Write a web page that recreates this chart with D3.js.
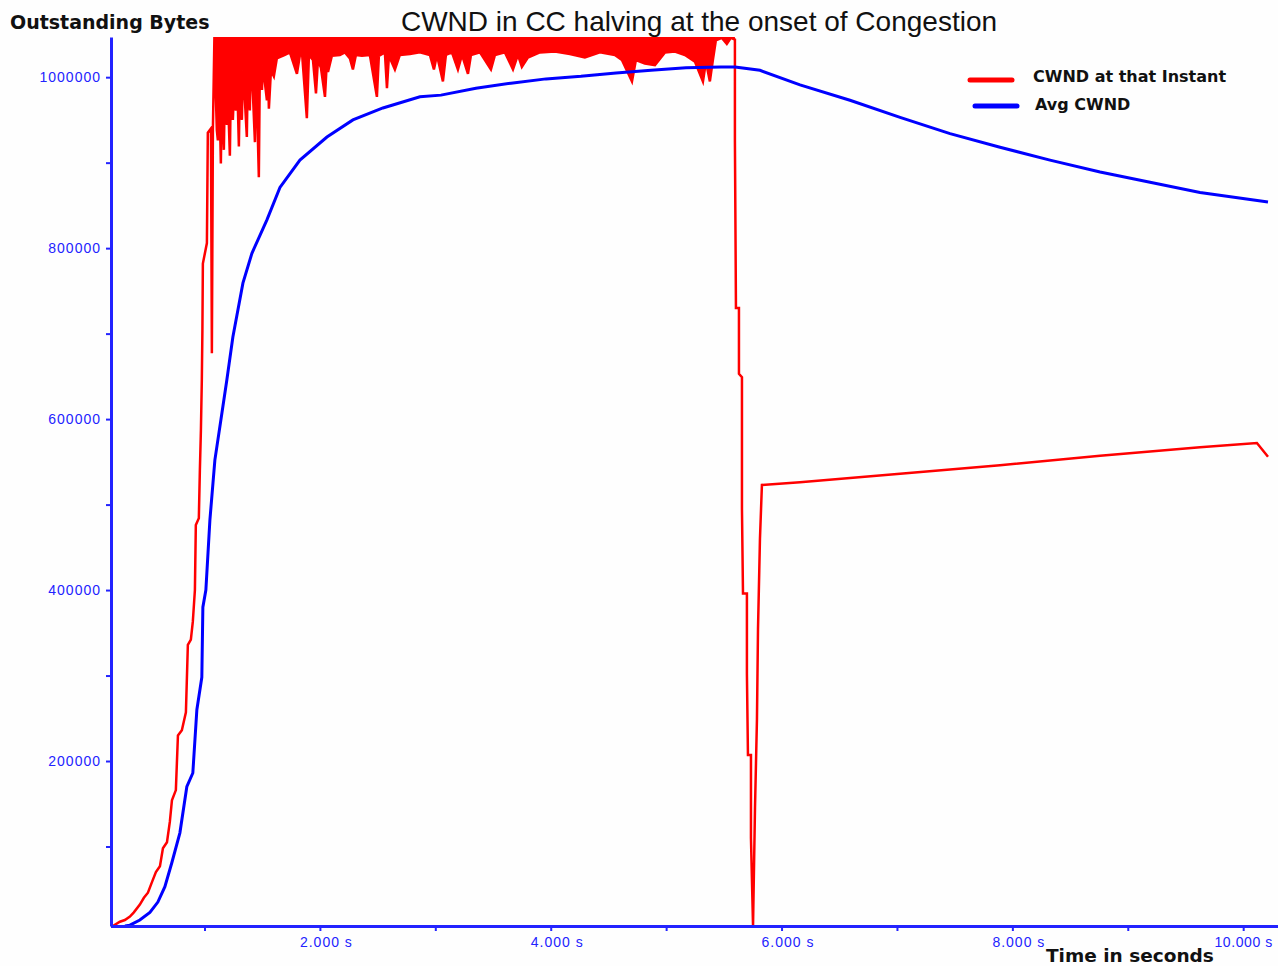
<!DOCTYPE html>
<html>
<head>
<meta charset="utf-8">
<script src="https://cdn.jsdelivr.net/npm/d3@7"></script>
<style>
  body { margin: 0; background: #ffffff; }
  .tick text { fill: #2323ff; font-family: "Liberation Sans", Arial, sans-serif; }
  .axis path, .axis line { stroke: #2323ff; }
</style>
</head>
<body>
<div id="chart"></div>
<script>
// chart size
var svgWidth = 1278;
var svgHeight = 966;

// plot box (pixels)
var plot = { left: 111, right: 1268, top: 37, bottom: 926 };

// CWND at that instant (seconds, bytes)
var redTime = [0.206, 0.267, 0.310, 0.354, 0.388, 0.440, 0.475, 0.510, 0.544, 0.579, 0.614, 0.640, 0.675, 0.700, 0.718, 0.752, 0.770, 0.804, 0.839, 0.856, 0.882, 0.899, 0.917, 0.925, 0.951, 0.960, 0.969, 0.977, 0.982, 0.986, 1.021, 1.029, 1.056, 1.064, 1.073, 1.086,
  1.090, 1.107, 1.116, 1.125, 1.142, 1.151, 1.168, 1.177, 1.194, 1.203, 1.220, 1.229, 1.246, 1.255, 1.272, 1.281, 1.298, 1.307, 1.324, 1.333, 1.350, 1.367, 1.376, 1.393, 1.402, 1.420, 1.437, 1.446, 1.471, 1.480, 1.498, 1.506,
  1.541, 1.550, 1.558, 1.576, 1.601, 1.627, 1.697, 1.740, 1.801, 1.827, 1.844, 1.887, 1.905, 1.940, 1.966, 1.983, 2.009, 2.044, 2.061, 2.070, 2.104, 2.173, 2.217, 2.260, 2.286, 2.312, 2.364, 2.433, 2.494, 2.511, 2.563, 2.581, 2.598, 2.650, 2.693, 2.780, 2.866, 2.953, 2.988, 3.014, 3.066, 3.092, 3.144, 3.196, 3.231, 3.283, 3.309, 3.387, 3.482, 3.517, 3.603, 3.673, 3.716, 3.750, 3.802, 3.906, 4.036, 4.166, 4.296, 4.426, 4.556, 4.617, 4.704, 4.738, 4.816, 4.903, 4.990, 5.076, 5.163, 5.250, 5.319, 5.345, 5.379, 5.405, 5.431, 5.483, 5.526, 5.561, 5.596,
  5.596, 5.605, 5.631, 5.631, 5.657, 5.657, 5.666, 5.700, 5.700, 5.709, 5.735, 5.735, 5.753, 5.770, 5.787, 5.796, 5.813, 5.830,
  6.160, 7.027, 7.893, 8.760, 9.626, 10.119, 10.215];
var redBytes = [7000, 12000, 14000, 18000, 23000, 32000, 40000, 46000, 58000, 70000, 77000, 98000, 105000, 129000, 154000, 166000, 230000, 236000, 257000, 336000, 342000, 363000, 400000, 476000, 484000, 540000, 587000, 646000, 704000, 782000, 806000, 935000, 940000, 677000, 940000, 1047000,
  1020000, 938000, 926000, 1002000, 899000, 985000, 915000, 991000, 944000, 979000, 908000, 996000, 950000, 984000, 961000, 1008000, 919000, 1002000, 950000, 1008000, 973000, 930000, 1014000, 961000, 1025000, 979000, 924000, 1018000, 883000, 1014000, 985000, 1014000,
  973000, 1008000, 963000, 1008000, 1001000, 1022000, 1026000, 1029000, 1004000, 1026000, 1030000, 952000, 1026000, 1020000, 981000, 1020000, 1011000, 977000, 1020000, 1006000, 1025000, 1026000, 1029000, 1022000, 1009000, 1026000, 1025000, 1026000, 977000, 1025000, 1029000, 987000, 1025000, 1009000, 1026000, 1027000, 1029000, 1026000, 1009000, 1026000, 995000, 1026000, 1029000, 1009000, 1026000, 1004000, 1026000, 1029000, 1009000, 1026000, 1029000, 1009000, 1026000, 1012000, 1023000, 1029000, 1030000, 1027000, 1023000, 1029000, 1026000, 1020000, 995000, 1020000, 1016000, 1014000, 1029000, 1030000, 1026000, 1018000, 995000, 1018000, 995000, 1020000, 1043000, 1046000, 1039000, 1046000, 1044000,
  926000, 730000, 730000, 653000, 649000, 495000, 396000, 396000, 302000, 207000, 207000, 110000, 7000, 145000, 249000, 354000, 460000, 523000,
  526000, 536000, 546000, 557000, 567000, 572000, 556000];

// Avg CWND (seconds, bytes)
var avgTime = [0.311, 0.354, 0.440, 0.527, 0.596, 0.657, 0.717, 0.787, 0.847, 0.899, 0.934, 0.977, 0.986, 1.012, 1.047, 1.090, 1.142, 1.194, 1.246, 1.333, 1.411, 1.541, 1.654, 1.827, 2.061, 2.286, 2.546, 2.867, 3.049, 3.352, 3.656, 3.959, 4.262, 4.566, 4.869, 5.172, 5.476, 5.597, 5.813, 6.160, 6.593, 7.027, 7.460, 7.893, 8.326, 8.760, 9.193, 9.626, 10.215];
var avgBytes = [7000, 8000, 14000, 23000, 35000, 53000, 81000, 116000, 170000, 186000, 260000, 298000, 380000, 400000, 482000, 552000, 599000, 646000, 696000, 759000, 794000, 833000, 871000, 903000, 930000, 950000, 964000, 977000, 979000, 987000, 993000, 998000, 1001000, 1005000, 1008000, 1011000, 1012000, 1012000, 1008000, 991000, 973000, 953000, 934000, 918000, 903000, 889000, 877000, 865000, 854000];

// ticks
var xMajorTicks = [2, 4, 6, 8, 10];
var xMajorLabels = ["2.000 s", "4.000 s", "6.000 s", "8.000 s", "10.000 s"];
var xMinorTicks = [1, 3, 5, 7, 9];
var yMajorTicks = [200000, 400000, 600000, 800000, 1000000];
var yMinorTicks = [100000, 300000, 500000, 700000, 900000];

var seriesNames = ["CWND at that Instant", "Avg CWND"];
var seriesColors = ["#ff0000", "#0000ff"];

var svg = d3.select("#chart")
  .append("svg")
  .attr("width", svgWidth)
  .attr("height", svgHeight)
  .style("background", "#fefefe");

var xScale = d3.scaleLinear().domain([0.19, 10.215]).range([plot.left, plot.right]);
var yScale = d3.scaleLinear().domain([7000, 1047000]).range([plot.bottom, plot.top]);

svg.append("clipPath")
  .attr("id", "plotClip")
  .append("rect")
  .attr("x", plot.left)
  .attr("y", plot.top)
  .attr("width", plot.right - plot.left + 4)
  .attr("height", plot.bottom - plot.top);

var redData = redTime.map((t, i) => ({ t: t, v: redBytes[i] }));
var avgData = avgTime.map((t, i) => ({ t: t, v: avgBytes[i] }));

var lineGroup = svg.append("g").attr("clip-path", "url(#plotClip)");

// the dense part of the instant CWND sits above the line, drawn as a solid band
var busy = redData.filter(d => d.t >= 1.086 && d.t <= 5.596);
var bandArea = d3.area()
  .x(d => xScale(d.t))
  .y0(plot.top)
  .y1(d => yScale(d.v));

lineGroup.append("path")
  .datum(busy)
  .attr("fill", seriesColors[0])
  .attr("d", bandArea);

var line = d3.line()
  .x(d => xScale(d.t))
  .y(d => yScale(d.v));

lineGroup.append("path")
  .datum(redData)
  .attr("fill", "none")
  .attr("stroke", seriesColors[0])
  .attr("stroke-width", 2.5)
  .attr("d", line);

lineGroup.append("path")
  .datum(avgData)
  .attr("fill", "none")
  .attr("stroke", seriesColors[1])
  .attr("stroke-width", 3)
  .attr("d", line);

// axes
var xMinorAxis = d3.axisBottom(xScale).tickValues(xMinorTicks).tickSize(5).tickFormat("");
var xAxis = d3.axisBottom(xScale)
  .tickValues(xMajorTicks)
  .tickSize(5)
  .tickSizeOuter(0)
  .tickFormat((d, i) => xMajorLabels[i]);

var xAxisG = svg.append("g")
  .attr("class", "axis")
  .attr("transform", `translate(0, ${plot.bottom})`)
  .call(xAxis);
svg.append("g")
  .attr("class", "axis")
  .attr("transform", `translate(0, ${plot.bottom})`)
  .call(xMinorAxis)
  .select(".domain").remove();

xAxisG.select(".domain")
  .attr("stroke-width", 3)
  .attr("d", `M${plot.left},0.5H${svgWidth}`);
xAxisG.selectAll(".tick text")
  .attr("dx", (d, i) => i === xMajorTicks.length - 1 ? 0 : 6)
  .attr("dy", "0.95em")
  .style("font-size", "14px")
  .style("letter-spacing", (d, i) => i === xMajorTicks.length - 1 ? "0.6px" : "1px");

var yMinorAxis = d3.axisLeft(yScale).tickValues(yMinorTicks).tickSize(5).tickFormat("");
var yAxis = d3.axisLeft(yScale)
  .tickValues(yMajorTicks)
  .tickSize(5)
  .tickSizeOuter(0)
  .tickFormat(d3.format("d"));

var yAxisG = svg.append("g")
  .attr("class", "axis")
  .attr("transform", `translate(${plot.left}, 0)`)
  .call(yAxis);
svg.append("g")
  .attr("class", "axis")
  .attr("transform", `translate(${plot.left}, 0)`)
  .call(yMinorAxis)
  .select(".domain").remove();

yAxisG.select(".domain").attr("stroke-width", 3);
yAxisG.selectAll(".tick text")
  .attr("x", -10)
  .style("font-size", "14px")
  .style("letter-spacing", "1px");
svg.selectAll(".axis .tick line").attr("stroke-width", 2);

// titles
svg.append("text")
  .attr("x", 699)
  .attr("y", 31)
  .attr("text-anchor", "middle")
  .style("font-family", "Liberation Sans, Arial, sans-serif")
  .style("font-size", "28px")
  .style("fill", "#111")
  .text("CWND in CC halving at the onset of Congestion");

svg.append("text")
  .attr("x", 10)
  .attr("y", 29)
  .style("font-family", "DejaVu Sans, sans-serif")
  .style("font-weight", "bold")
  .style("font-size", "19px")
  .style("fill", "#111")
  .text("Outstanding Bytes");

svg.append("text")
  .attr("x", 1046)
  .attr("y", 962)
  .style("font-family", "DejaVu Sans, sans-serif")
  .style("font-weight", "bold")
  .style("font-size", "18.5px")
  .style("fill", "#111")
  .text("Time in seconds");

// legend
var legend = svg.append("g");
var legendRows = [
  { name: seriesNames[0], color: seriesColors[0], x1: 970, x2: 1012, y: 80, tx: 1033, ty: 82 },
  { name: seriesNames[1], color: seriesColors[1], x1: 975, x2: 1017, y: 106, tx: 1035, ty: 110 }
];
legendRows.forEach(function(r) {
  legend.append("line")
    .attr("x1", r.x1)
    .attr("x2", r.x2)
    .attr("y1", r.y)
    .attr("y2", r.y)
    .attr("stroke", r.color)
    .attr("stroke-width", 5)
    .attr("stroke-linecap", "round");
  legend.append("text")
    .attr("x", r.tx)
    .attr("y", r.ty)
    .style("font-family", "DejaVu Sans, sans-serif")
    .style("font-weight", "bold")
    .style("font-size", "16px")
    .style("fill", "#111")
    .text(r.name);
});
</script>
</body>
</html>
